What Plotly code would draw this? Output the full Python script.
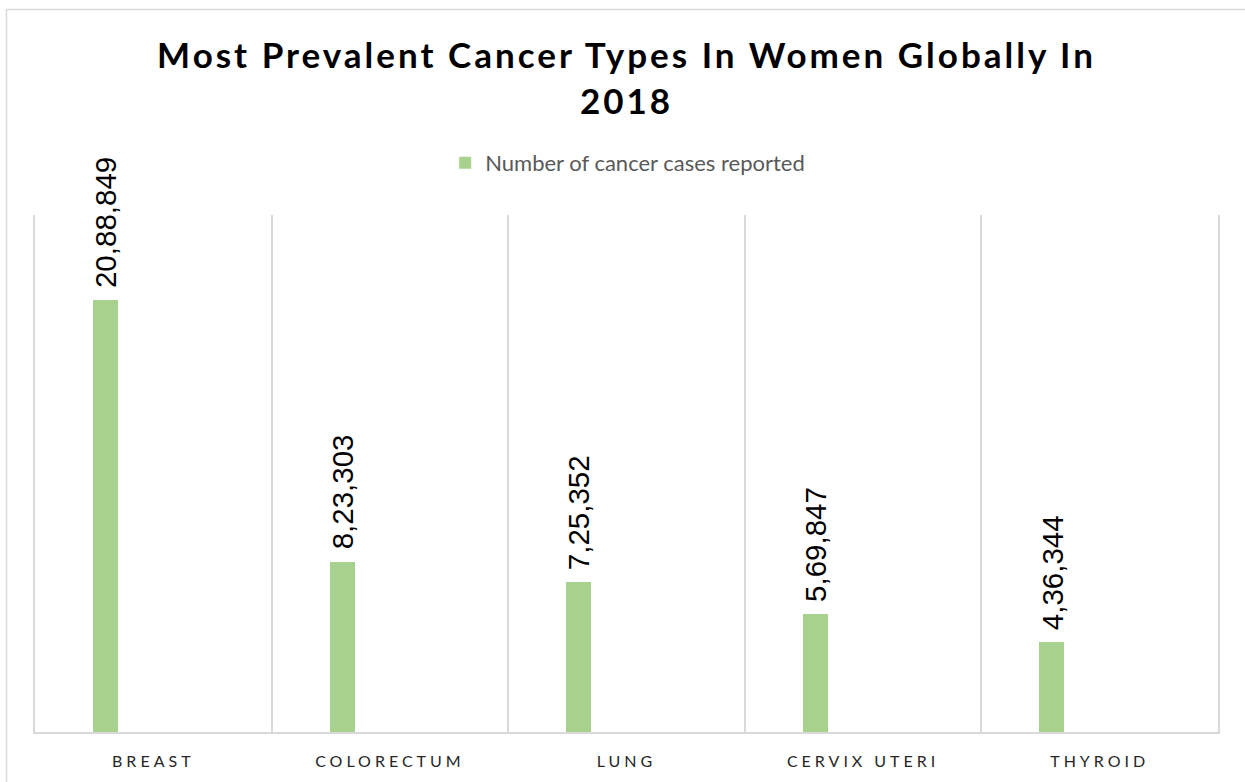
import plotly.graph_objects as go

categories = ["BREAST", "COLORECTUM", "LUNG", "CERVIX UTERI", "THYROID"]
cases = [2088849, 823303, 725352, 569847, 436344]
series_name = "Number of cancer cases reported"
title_text = "Most Prevalent Cancer Types In Women Globally In<br>2018"

BAR_COLOR = "#A9D18E"
GRID = "#D9D9D9"


def indian_format(n):
    s = str(int(n))
    if len(s) <= 3:
        return s
    last3 = s[-3:]
    rest = s[:-3]
    parts = []
    while len(rest) > 2:
        parts.insert(0, rest[-2:])
        rest = rest[:-2]
    if rest:
        parts.insert(0, rest)
    return ",".join(parts) + "," + last3


BAR_OFFSET = -0.255
BAR_WIDTH = 0.106

fig = go.Figure()
fig.add_trace(go.Bar(
    x=categories, y=cases, name=series_name,
    marker=dict(color=BAR_COLOR, line=dict(width=0)),
    offset=BAR_OFFSET, width=BAR_WIDTH,
    showlegend=True,
))

for i, v in enumerate(cases):
    fig.add_annotation(
        x=i + BAR_OFFSET + BAR_WIDTH / 2, y=v, xref="x", yref="y",
        text=indian_format(v), showarrow=False, textangle=-90,
        xanchor="center", yanchor="bottom", yshift=10,
        font=dict(family="Liberation Sans, Arial", size=29.5, color="#000000"),
    )

# chart border
fig.add_shape(type="rect", xref="paper", yref="paper",
              x0=-0.0241, x1=1.2, y0=-0.5, y1=1.3975,
              line=dict(color=GRID, width=1.5), fillcolor="rgba(0,0,0,0)", layer="below")

fig.update_layout(
    width=1245, height=782,
    margin=dict(l=35, r=27, t=215, b=50),
    paper_bgcolor="white", plot_bgcolor="white",
    title=dict(text=title_text, x=0.5, xanchor="center", xref="paper",
               y=1 - 68 / 782, yanchor="middle", yref="container",
               font=dict(family="Lato", size=35, color="#000000", weight="bold")),
    legend=dict(orientation="h", x=0.501, xanchor="center", y=1.1006, yanchor="middle",
                font=dict(family="Lato", size=22, color="#595959"),
                bgcolor="rgba(0,0,0,0)", itemwidth=30),
    xaxis=dict(type="category", tickson="boundaries", showgrid=True, gridcolor=GRID,
               gridwidth=2, showline=True, linecolor=GRID, linewidth=2, ticks="",
               ticklabelstandoff=14, range=[-0.5, 4.5],
               tickfont=dict(family="Lato", size=16, color="#262626")),
    yaxis=dict(range=[0, 2500000], showgrid=False, zeroline=False, showticklabels=False,
               showline=True, mirror=True, linecolor=GRID, linewidth=2, ticks=""),
    bargap=0,
)

post_script = """
var gd = document.getElementById('{plot_id}');
function spacing(){
  gd.querySelectorAll('.gtitle').forEach(function(t){ t.style.letterSpacing = '3px'; });
  gd.querySelectorAll('.xtick text').forEach(function(t){ t.style.letterSpacing = '4px'; });
}
spacing();
gd.on('plotly_afterplot', spacing);
"""

fig.write_html("out.html", post_script=post_script)
